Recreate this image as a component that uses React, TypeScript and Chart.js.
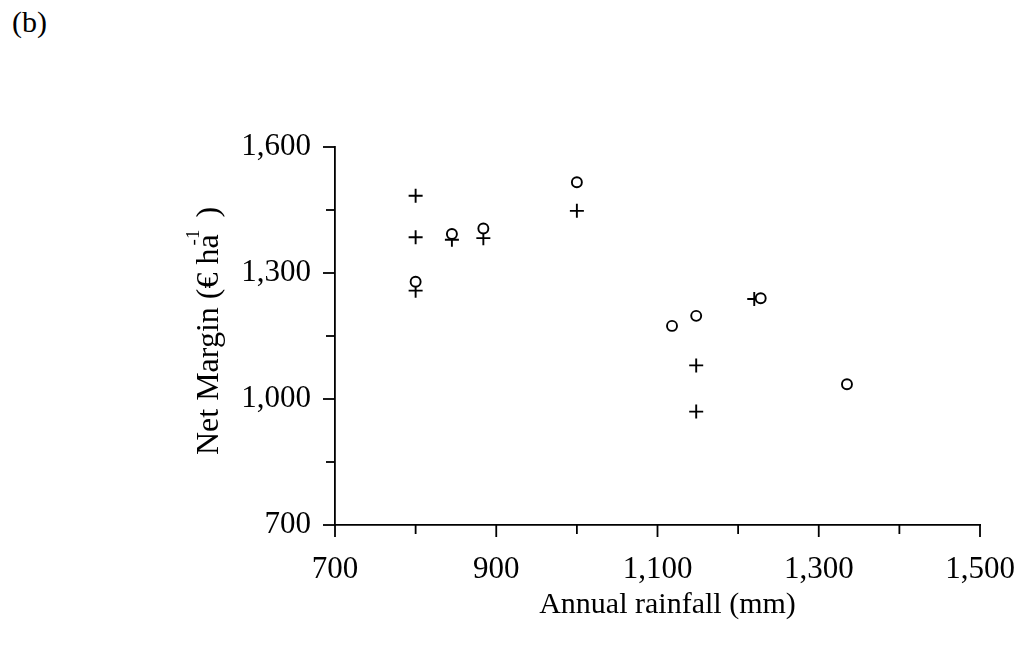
import React, { useEffect, useRef } from "react";
import { Chart, registerables } from "chart.js";

Chart.register(...registerables);

const circleX = [800, 845, 884, 1000, 1118, 1148, 1228, 1335];
const circleY = [1279, 1393, 1406, 1516, 1174, 1198, 1240, 1035];
const plusX = [800, 800, 800, 845, 884, 1000, 1148, 1148, 1220];
const plusY = [1484, 1385, 1258, 1379, 1383, 1448, 1080, 970, 1238];

const xTitle = "Annual rainfall (mm)";
const yTitleMain = "Net Margin (€ ha";
const yTitleSup = "-1";
const yTitleEnd = ")";
const panelLabel = "(b)";

const FONT = "Liberation Serif";

const fmt = (v: number) => v.toLocaleString("en-US");

const tickPlugin = {
  id: "customTicks",
  afterDraw(chart: any) {
    const ctx = chart.ctx;
    const area = chart.chartArea;
    ctx.save();
    ctx.strokeStyle = "#000";
    ctx.lineWidth = 1.8;
    const xs = chart.scales.x;
    xs.ticks.forEach((t: any, i: number) => {
      const p = xs.getPixelForTick(i);
      const len = (t.value - 700) % 200 === 0 ? 12 : 9;
      ctx.beginPath();
      ctx.moveTo(p, area.bottom);
      ctx.lineTo(p, area.bottom + len);
      ctx.stroke();
    });
    const ys = chart.scales.y;
    ys.ticks.forEach((t: any, i: number) => {
      const p = ys.getPixelForTick(i);
      const len = (t.value - 700) % 300 === 0 ? 12 : 9;
      ctx.beginPath();
      ctx.moveTo(area.left - len, p);
      ctx.lineTo(area.left, p);
      ctx.stroke();
    });
    // titles
    ctx.fillStyle = "#000";
    ctx.font = `30px ${FONT}`;
    ctx.textAlign = "center";
    ctx.textBaseline = "middle";
    ctx.fillText(xTitle, (area.left + area.right) / 2 + 10, 605);

    ctx.translate(207, 331);
    ctx.rotate(-Math.PI / 2);
    const big = `32px ${FONT}`;
    const small = `19px ${FONT}`;
    ctx.font = big;
    const w1 = ctx.measureText(yTitleMain).width;
    ctx.font = small;
    const w2 = ctx.measureText(yTitleSup).width;
    ctx.font = big;
    const w3 = ctx.measureText(yTitleEnd).width;
    const gap = 12;
    const total = w1 + w2 * 0.3 + gap + w3;
    const x0 = -total / 2;
    ctx.textAlign = "left";
    ctx.textBaseline = "alphabetic";
    ctx.fillText(yTitleMain, x0, 11);
    ctx.font = small;
    ctx.fillText(yTitleSup, x0 + w1 - w2 * 0.7, -8);
    ctx.font = big;
    ctx.fillText(yTitleEnd, x0 + w1 + w2 * 0.3 + gap, 11);
    ctx.restore();
  },
};

export default function App() {
  const ref = useRef<HTMLCanvasElement>(null);
  useEffect(() => {
    document.body.style.margin = "0";
    const chart = new Chart(ref.current as HTMLCanvasElement, {
      type: "scatter",
      data: {
        datasets: [
          {
            label: "circle",
            data: circleX.map((x, i) => ({ x, y: circleY[i] })),
            pointStyle: "circle",
            pointRadius: 5,
            borderColor: "#000",
            backgroundColor: "#fff",
            borderWidth: 1.9,
          },
          {
            label: "plus",
            data: plusX.map((x, i) => ({ x, y: plusY[i] })),
            pointStyle: "cross",
            pointRadius: 7,
            borderColor: "#000",
            backgroundColor: "#000",
            borderWidth: 1.9,
          },
        ],
      },
      options: {
        responsive: false,
        animation: false,
        layout: { padding: { top: 147, right: 43, left: 0, bottom: 0 } },
        plugins: { legend: { display: false }, tooltip: { enabled: false } },
        scales: {
          x: {
            type: "linear",
            min: 700,
            max: 1500,
            afterFit: (s: any) => {
              s.height = 126;
            },
            grid: { display: false, drawTicks: true, tickLength: 26 },
            border: { display: true, color: "#000", width: 1.8 },
            ticks: {
              stepSize: 100,
              padding: 0,
              color: "#000",
              font: { family: FONT, size: 31 },
              maxRotation: 0,
              autoSkip: false,
              callback: (v: any) => ((Number(v) - 700) % 200 === 0 ? fmt(Number(v)) : ""),
            },
          },
          y: {
            type: "linear",
            min: 700,
            max: 1600,
            afterFit: (s: any) => {
              s.width = 335;
            },
            grid: { display: false, drawTicks: false },
            border: { display: true, color: "#000", width: 1.8 },
            ticks: {
              stepSize: 150,
              padding: 24,
              color: "#000",
              font: { family: FONT, size: 31 },
              autoSkip: false,
              callback: (v: any) => ((Number(v) - 700) % 300 === 0 ? fmt(Number(v)) : ""),
            },
          },
        },
      },
      plugins: [tickPlugin],
    });
    return () => chart.destroy();
  }, []);
  return (
    <div style={{ position: "relative", width: 1023, height: 651, background: "#fff" }}>
      <div
        style={{
          position: "absolute",
          left: 12,
          top: 7,
          fontFamily: FONT,
          fontSize: 30,
          lineHeight: "30px",
          color: "#000",
        }}
      >
        {panelLabel}
      </div>
      <canvas ref={ref} width={1023} height={651} style={{ position: "absolute", left: 0, top: 0 }} />
    </div>
  );
}
